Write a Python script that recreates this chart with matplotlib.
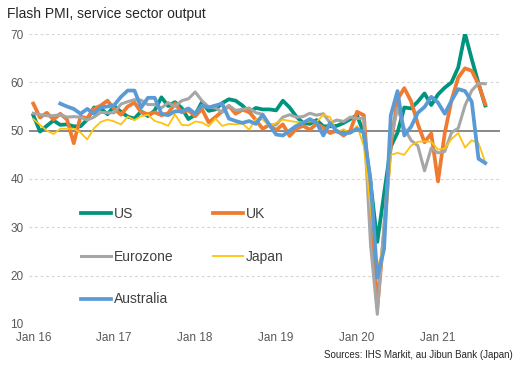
import matplotlib
matplotlib.use("Agg")
import matplotlib.pyplot as plt
import numpy as np

plt.rcParams['font.family'] = ['Liberation Sans', 'DejaVu Sans']

# monthly flash PMI, Jan 2016 - Aug 2021
us = [53.2, 49.8, 51.0, 52.1, 51.2, 51.3, 50.9, 50.9, 52.3, 54.8, 54.6, 53.4,
      55.1, 53.9, 52.9, 52.5, 54.0, 53.0, 54.2, 56.9, 55.1, 55.9, 54.7, 52.4,
      53.3, 55.9, 54.1, 54.4, 55.7, 56.5, 56.2, 55.2, 53.8, 54.7, 54.4, 54.4,
      54.2, 56.2, 54.8, 52.9, 51.6, 51.4, 52.2, 50.9, 50.9, 51.0, 51.6, 52.4,
      53.2, 49.4, 39.1, 27.0, 36.9, 46.7, 49.6, 54.8, 54.6, 56.0, 57.7, 55.3,
      57.5, 58.9, 60.0, 63.1, 70.1, 64.8, 59.8, 55.2]
uk = [55.6, 52.7, 53.7, 52.3, 53.5, 52.3, 47.4, 52.9, 52.6, 54.5, 55.2, 56.2,
      54.5, 53.3, 55.0, 55.8, 53.8, 53.4, 53.8, 53.2, 53.6, 55.6, 53.8, 54.2,
      53.0, 54.5, 51.7, 52.8, 54.0, 55.1, 53.5, 54.3, 53.9, 52.2, 50.4, 51.2,
      50.1, 51.3, 48.9, 50.4, 51.0, 50.2, 51.4, 50.6, 49.5, 50.0, 49.0, 50.0,
      53.9, 53.2, 34.5, 13.4, 29.0, 47.1, 56.5, 58.8, 56.1, 51.4, 47.6, 49.4,
      39.5, 49.5, 56.3, 61.0, 62.9, 62.4, 59.6, 55.5]
eurozone = [53.6, 53.3, 53.1, 53.1, 53.3, 52.8, 52.9, 52.8, 52.2, 52.8, 53.8, 53.7,
            53.7, 55.5, 56.0, 56.4, 56.3, 55.4, 55.4, 54.7, 55.8, 55.0, 56.2, 56.6,
            58.0, 56.2, 54.9, 54.7, 53.8, 55.2, 54.2, 54.4, 54.7, 53.7, 53.4, 51.2,
            51.2, 52.8, 53.3, 52.8, 52.9, 53.6, 53.2, 53.5, 51.6, 52.2, 51.9, 52.8,
            52.5, 52.6, 26.4, 12.0, 30.5, 48.3, 54.7, 50.5, 48.0, 46.9, 41.7, 46.4,
            45.4, 45.7, 49.6, 50.5, 55.2, 58.3, 59.8, 59.7]
japan = [52.4, 51.2, 50.0, 49.3, 50.4, 50.4, 50.4, 49.6, 48.2, 50.5, 51.8, 52.3,
         51.9, 51.3, 52.9, 52.2, 53.0, 53.3, 52.0, 51.6, 51.0, 53.4, 51.2, 51.1,
         51.9, 51.7, 50.9, 52.5, 51.0, 51.4, 51.3, 51.5, 50.2, 52.4, 52.3, 51.0,
         51.6, 52.3, 52.0, 51.8, 51.7, 51.9, 51.8, 53.3, 52.8, 49.7, 50.3, 49.4,
         51.0, 46.8, 33.8, 21.5, 26.5, 45.0, 45.4, 45.0, 46.9, 47.7, 47.8, 47.7,
         46.1, 46.3, 48.3, 49.5, 46.5, 48.0, 47.4, 43.5]
australia = [np.nan, np.nan, np.nan, np.nan,
             55.6, 55.0, 54.5, 53.5, 54.5, 53.5, 54.8, 55.0,
             55.3, 57.0, 58.3, 58.3, 54.8, 56.8, 56.8, 53.5, 53.2, 54.0, 54.0, 54.6,
             53.5, 55.2, 54.8, 55.2, 55.6, 52.5, 52.0, 51.6, 52.0, 51.4, 53.3, 51.2,
             49.2, 49.0, 50.0, 51.0, 51.6, 52.4, 51.6, 49.0, 51.6, 49.8, 49.4, 49.6,
             50.4, 49.6, 39.8, 19.6, 25.5, 53.2, 58.2, 49.0, 50.8, 53.7, 54.9, 57.0,
             55.8, 53.5, 56.2, 58.6, 58.2, 56.0, 44.2, 43.3]

tick_labels = ["Jan 16", "Jan 17", "Jan 18", "Jan 19", "Jan 20", "Jan 21"]
months = np.arange(len(us))

fig = plt.figure(figsize=(5.22, 3.77), dpi=100)
ax = fig.add_axes([0.056, 0.1406, 0.902, 0.7692])

ax.axhline(50, color='#7f7f7f', linewidth=1.3, zorder=1)
for v in [10, 20, 30, 40, 60, 70]:
    ax.axhline(v, color='#d5d5d5', linewidth=0.8, linestyle=(0, (2.5, 2.5)), zorder=0)

l_us, = ax.plot(months, us, color='#00937d', linewidth=2.7, label='US', zorder=3)
l_uk, = ax.plot(months, uk, color='#ef7b30', linewidth=2.7, label='UK', zorder=3)
l_ez, = ax.plot(months, eurozone, color='#a6a6a6', linewidth=2.2, label='Eurozone', zorder=3)
l_jp, = ax.plot(months, japan, color='#ffc20e', linewidth=1.3, label='Japan', zorder=3)
l_au, = ax.plot(months, australia, color='#5b9bd5', linewidth=2.7, label='Australia', zorder=3)

ax.set_xlim(-0.6, 69.2)
ax.set_ylim(10, 70)
ax.set_yticks([10, 20, 30, 40, 50, 60, 70])
ax.set_xticks(np.arange(0, 72, 12))
ax.set_xticklabels(tick_labels)
ax.tick_params(axis='both', length=0, labelsize=8.5, colors='#595959')
ax.tick_params(axis='x', pad=6)
ax.tick_params(axis='y', pad=4)
for s in ax.spines.values():
    s.set_visible(False)

ax.legend(handles=[l_us, l_ez, l_au, l_uk, l_jp], ncol=2, loc='upper left',
          bbox_to_anchor=(0.083, 0.447), frameon=False, fontsize=10,
          handlelength=2.2, handletextpad=0.2, labelspacing=2.07,
          columnspacing=2.8, labelcolor='#404040')

fig.text(0.013, 0.963, "Flash PMI, service sector output", fontsize=10,
         color='#262626', va='center', ha='left')
fig.text(0.983, 0.058, "Sources: IHS Markit, au Jibun Bank (Japan)", fontsize=7,
         color='#262626', va='center', ha='right')

fig.savefig("out.png", dpi=100)
